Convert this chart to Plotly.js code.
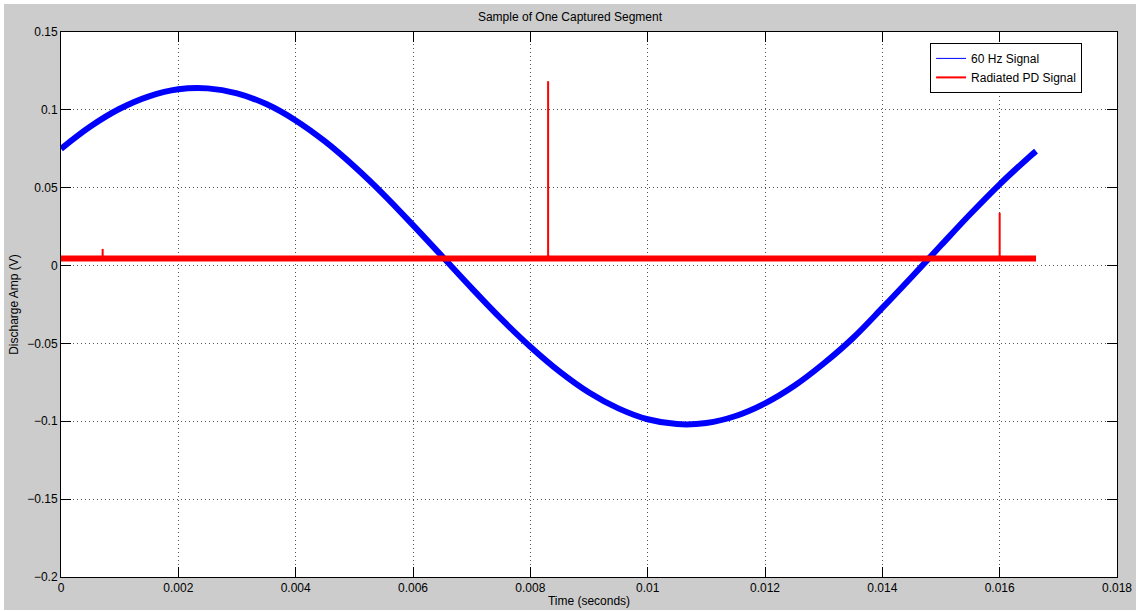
<!DOCTYPE html>
<html>
<head>
<meta charset="utf-8">
<script src="https://cdn.plot.ly/plotly-3.0.1.min.js"></script>
<style>
  html, body { margin: 0; padding: 0; background: #ffffff; }
  #chart { position: absolute; left: 4px; top: 4px; width: 1132px; height: 606px; }
</style>
</head>
<body>
<div id="chart"></div>
<script>
// 60 Hz reference signal, sampled every 0.5 ms (seconds, volts)
const sigTime = [
  0, 0.0005, 0.001, 0.0015, 0.002, 0.0025, 0.003, 0.0035, 0.004, 0.0045,
  0.005, 0.0055, 0.006, 0.0065, 0.007, 0.0075, 0.008, 0.0085, 0.009, 0.0095,
  0.010, 0.0105, 0.011, 0.0115, 0.012, 0.0125, 0.013, 0.0135, 0.014, 0.0145,
  0.015, 0.0155, 0.016, 0.0165, 0.01662
];
const sigAmp = [
  0.075, 0.0893, 0.1007, 0.1087, 0.1132, 0.1138, 0.1106, 0.1037, 0.0932, 0.0797,
  0.0636, 0.0456, 0.0260, 0.0058, -0.0145, -0.0341, -0.0521, -0.0681, -0.0815, -0.0917,
  -0.0987, -0.1018, -0.1011, -0.0966, -0.0885, -0.0772, -0.0629, -0.0465, -0.0272, -0.0073,
  0.0130, 0.0331, 0.0522, 0.0696, 0.0735
];

// Radiated PD signal: baseline level and the discharge pulses
const pdBaseTime = [0, 0.002, 0.004, 0.006, 0.008, 0.010, 0.012, 0.014, 0.016, 0.01662];
const pdBaseAmp  = [0.0046, 0.0045, 0.0045, 0.0044, 0.0044, 0.0045, 0.0045, 0.0046, 0.0045, 0.0045];
const pdPulseTime = [0.00071, 0.008303, 0.016];
const pdPulsePeak = [0.0107, 0.1184, 0.0339];

const xTicks = [0, 0.002, 0.004, 0.006, 0.008, 0.01, 0.012, 0.014, 0.016, 0.018];
const yTicks = [-0.2, -0.15, -0.1, -0.05, 0, 0.05, 0.1, 0.15];

const BLUE = '#0000ff';
const RED = '#ff0000';

// Pulses drawn as vertical strokes rising from the baseline
const pulseX = [], pulseY = [];
pdPulseTime.forEach((t, i) => {
  pulseX.push(t, t, null);
  pulseY.push(pdBaseAmp[0], pdPulsePeak[i], null);
});

const traces = [
  { x: sigTime, y: sigAmp, type: 'scatter', mode: 'lines',
    line: { color: BLUE, width: 6, shape: 'spline' },
    showlegend: false, hoverinfo: 'skip' },
  { x: pdBaseTime, y: pdBaseAmp, type: 'scatter', mode: 'lines',
    line: { color: RED, width: 6 }, showlegend: false, hoverinfo: 'skip' },
  { x: pulseX, y: pulseY, type: 'scatter', mode: 'lines',
    line: { color: RED, width: 2 }, showlegend: false, hoverinfo: 'skip' },
  // legend entries
  { x: [null], y: [null], type: 'scatter', mode: 'lines', name: '60 Hz Signal',
    line: { color: BLUE, width: 1 } },
  { x: [null], y: [null], type: 'scatter', mode: 'lines', name: 'Radiated PD Signal',
    line: { color: RED, width: 2 } }
];

const FONT = 'Liberation Sans, Helvetica, Arial, sans-serif';

const axisCommon = {
  showline: true, linecolor: '#000', linewidth: 1, mirror: 'ticks',
  ticks: 'inside', ticklen: 10, tickwidth: 1, tickcolor: '#000',
  showgrid: true, gridcolor: '#555555', gridwidth: 1, griddash: '1px,3px',
  zeroline: false, automargin: false,
  tickfont: { family: FONT, size: 12, color: '#000' }
};

const layout = {
  width: 1132, height: 606,
  paper_bgcolor: '#cccccc', plot_bgcolor: '#ffffff',
  margin: { l: 57, r: 19, t: 28, b: 33 },
  font: { family: FONT, size: 12, color: '#000' },
  title: { text: 'Sample of One Captured Segment', font: { family: FONT, size: 12, color: '#000' },
           x: 0.5, xanchor: 'center', y: 0.985, yanchor: 'top' },
  xaxis: Object.assign({}, axisCommon, {
    range: [0, 0.018], tickvals: xTicks, ticktext: xTicks.map(String),
    title: { text: 'Time (seconds)', font: { family: FONT, size: 12, color: '#000' }, standoff: 2 }
  }),
  yaxis: Object.assign({}, axisCommon, {
    range: [-0.2, 0.15], tickvals: yTicks,
    ticktext: yTicks.map(v => (v < 0 ? '\u2212' + String(-v) : String(v))),
    title: { text: 'Discharge Amp (V)', font: { family: FONT, size: 12, color: '#000' }, standoff: 6 }
  }),
  legend: {
    x: 0.823, y: 0.98, xanchor: 'left', yanchor: 'top',
    bgcolor: '#ffffff', bordercolor: '#000', borderwidth: 1,
    font: { family: FONT, size: 12, color: '#000' },
    tracegroupgap: 0, itemwidth: 30
  },
  showlegend: true
};

Plotly.newPlot('chart', traces, layout, { displayModeBar: false, staticPlot: true });
</script>
</body>
</html>
